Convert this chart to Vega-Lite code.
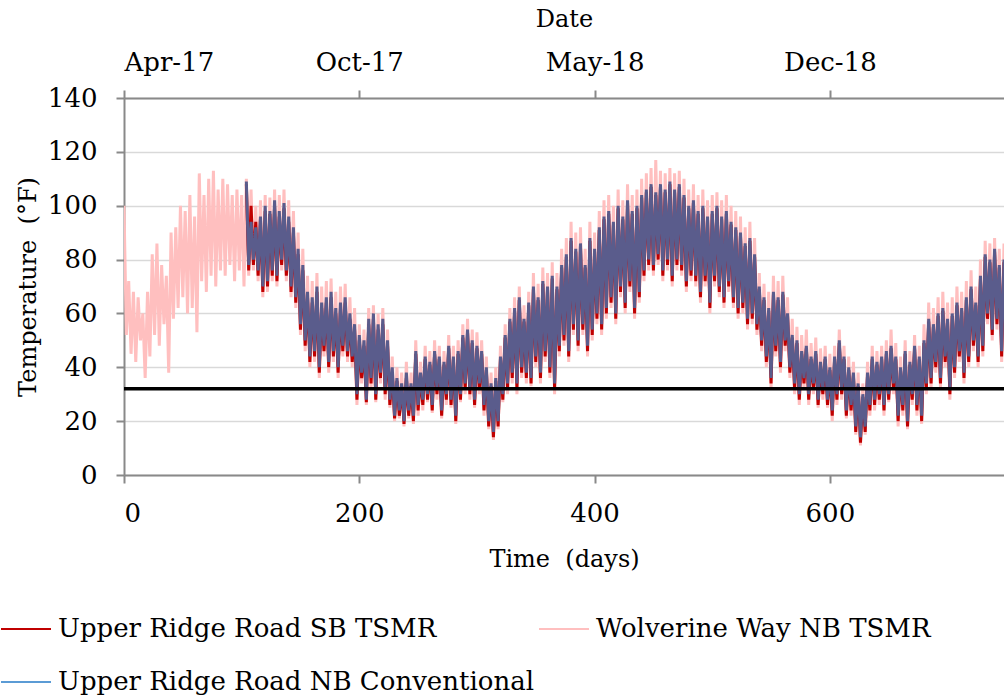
{
"$schema": "https://vega.github.io/schema/vega-lite/v6.json",
"width": 880, "height": 377,
"autosize": {"type": "none"},
"padding": {"left": 124, "top": 98, "right": 0, "bottom": 223},
"background": "white",
"config": {"font": "DejaVu Serif", "view": {"stroke": null},
 "axis": {"labelFont": "DejaVu Serif", "titleFont": "DejaVu Serif", "labelFontSize": 26, "titleFontSize": 24, "labelColor": "#000", "titleColor": "#000", "titleFontWeight": "normal", "domainColor": "#898989", "domainWidth": 2, "tickColor": "#898989", "tickWidth": 2, "tickSize": 8, "grid": false},
 "legend": {"labelFont": "DejaVu Serif"}},
"datasets": {"temps": [
{"d":0,"w":100},{"d":2,"w":52},{"d":4,"w":72},{"d":6,"w":45},{"d":8,"w":68},{"d":10,"w":42},{"d":12,"w":66},{"d":14,"w":50},{"d":16,"w":60},{"d":18,"w":36},
{"d":20,"w":68},{"d":22,"w":44},{"d":24,"w":82},{"d":26,"w":52},{"d":28,"w":86},{"d":30,"w":48},{"d":32,"w":78},{"d":34,"w":56},{"d":36,"w":74},{"d":38,"w":38},
{"d":40,"w":90},{"d":42,"w":58},{"d":44,"w":92},{"d":46,"w":62},{"d":48,"w":100},{"d":50,"w":66},{"d":52,"w":98},{"d":54,"w":60},{"d":56,"w":104},{"d":58,"w":62},
{"d":60,"w":96},{"d":62,"w":53},{"d":64,"w":112},{"d":66,"w":72},{"d":68,"w":104},{"d":70,"w":68},{"d":72,"w":110},{"d":74,"w":74},{"d":76,"w":113},{"d":78,"w":70},
{"d":80,"w":106},{"d":82,"w":76},{"d":84,"w":110},{"d":86,"w":74},{"d":88,"w":108},{"d":90,"w":78},{"d":92,"w":104},{"d":94,"w":72},{"d":96,"w":106},{"d":98,"w":76},
{"d":100,"w":104},{"d":102,"w":70},
{"d":104,"w":110,"r":108,"b":109},{"d":106,"w":74,"r":76,"b":78},{"d":108,"w":106,"r":100,"b":94},{"d":110,"w":76,"r":78,"b":80},{"d":112,"w":100,"r":94,"b":92},{"d":114,"w":72,"r":74,"b":76},{"d":116,"w":102,"r":95,"b":96},{"d":118,"w":66,"r":68,"b":70},
{"d":120,"w":104,"r":98,"b":100},{"d":122,"w":68,"r":70,"b":72},{"d":124,"w":103,"r":97,"b":98},{"d":126,"w":72,"r":74,"b":76},{"d":128,"w":106,"r":100,"b":102},{"d":130,"w":70,"r":72,"b":74},{"d":132,"w":104,"r":96,"b":98},{"d":134,"w":76,"r":78,"b":80},{"d":136,"w":106,"r":99,"b":101},{"d":138,"w":72,"r":74,"b":76},
{"d":140,"w":102,"r":94,"b":96},{"d":142,"w":66,"r":68,"b":70},{"d":144,"w":98,"r":90,"b":92},{"d":146,"w":62,"r":64,"b":66},{"d":148,"w":90,"r":82,"b":84},{"d":150,"w":52,"r":54,"b":56},{"d":152,"w":84,"r":76,"b":78},{"d":154,"w":46,"r":48,"b":50},{"d":156,"w":74,"r":66,"b":68},{"d":158,"w":40,"r":42,"b":44},
{"d":160,"w":72,"r":64,"b":66},{"d":162,"w":42,"r":44,"b":46},{"d":164,"w":75,"r":68,"b":70},{"d":166,"w":36,"r":38,"b":40},{"d":168,"w":70,"r":62,"b":64},{"d":170,"w":44,"r":46,"b":48},{"d":172,"w":72,"r":64,"b":66},{"d":174,"w":38,"r":40,"b":42},{"d":176,"w":73,"r":66,"b":68},{"d":178,"w":42,"r":44,"b":46},
{"d":180,"w":68,"r":60,"b":62},{"d":182,"w":36,"r":38,"b":40},{"d":184,"w":70,"r":62,"b":64},{"d":186,"w":44,"r":46,"b":48},{"d":188,"w":71,"r":64,"b":66},{"d":190,"w":42,"r":44,"b":46},{"d":192,"w":66,"r":58,"b":60},{"d":194,"w":40,"r":42,"b":44},{"d":196,"w":62,"r":54,"b":56},{"d":198,"w":26,"r":28,"b":30},
{"d":200,"w":56,"r":50,"b":52},{"d":202,"w":34,"r":36,"b":38},{"d":204,"w":54,"r":48,"b":50},{"d":206,"w":26,"r":27,"b":28},{"d":208,"w":62,"r":56,"b":58},{"d":210,"w":32,"r":34,"b":36},{"d":212,"w":63,"r":58,"b":60},{"d":214,"w":27,"r":28,"b":30},{"d":216,"w":60,"r":54,"b":56},{"d":218,"w":34,"r":36,"b":38},
{"d":220,"w":62,"r":56,"b":58},{"d":222,"w":28,"r":30,"b":32},{"d":224,"w":54,"r":48,"b":50},{"d":226,"w":25,"r":26,"b":28},{"d":228,"w":44,"r":38,"b":40},{"d":230,"w":20,"r":21,"b":22},{"d":232,"w":40,"r":35,"b":36},{"d":234,"w":21,"r":22,"b":24},{"d":236,"w":38,"r":33,"b":34},{"d":238,"w":18,"r":19,"b":20},
{"d":240,"w":42,"r":36,"b":38},{"d":242,"w":21,"r":22,"b":24},{"d":244,"w":38,"r":33,"b":34},{"d":246,"w":19,"r":20,"b":22},{"d":248,"w":50,"r":45,"b":46},{"d":250,"w":22,"r":24,"b":26},{"d":252,"w":42,"r":37,"b":38},{"d":254,"w":24,"r":26,"b":28},{"d":256,"w":48,"r":43,"b":44},{"d":258,"w":27,"r":28,"b":30},
{"d":260,"w":46,"r":41,"b":42},{"d":262,"w":23,"r":24,"b":26},{"d":264,"w":50,"r":45,"b":46},{"d":266,"w":28,"r":30,"b":32},{"d":268,"w":48,"r":43,"b":44},{"d":270,"w":21,"r":22,"b":24},{"d":272,"w":46,"r":41,"b":42},{"d":274,"w":26,"r":28,"b":30},{"d":276,"w":52,"r":47,"b":48},{"d":278,"w":25,"r":26,"b":28},
{"d":280,"w":48,"r":43,"b":44},{"d":282,"w":19,"r":20,"b":22},{"d":284,"w":50,"r":45,"b":46},{"d":286,"w":27,"r":28,"b":30},{"d":288,"w":56,"r":51,"b":52},{"d":290,"w":30,"r":32,"b":34},{"d":292,"w":58,"r":53,"b":54},{"d":294,"w":28,"r":30,"b":32},{"d":296,"w":54,"r":49,"b":50},{"d":298,"w":25,"r":26,"b":28},
{"d":300,"w":53,"r":47,"b":48},{"d":302,"w":30,"r":32,"b":34},{"d":304,"w":50,"r":45,"b":46},{"d":306,"w":22,"r":24,"b":26},{"d":308,"w":44,"r":39,"b":40},{"d":310,"w":17,"r":18,"b":20},{"d":312,"w":38,"r":33,"b":34},{"d":314,"w":13,"r":14,"b":16},{"d":316,"w":40,"r":35,"b":36},{"d":318,"w":17,"r":18,"b":20},
{"d":320,"w":48,"r":43,"b":44},{"d":322,"w":27,"r":28,"b":30},{"d":324,"w":56,"r":51,"b":52},{"d":326,"w":30,"r":32,"b":34},{"d":328,"w":62,"r":57,"b":58},{"d":330,"w":34,"r":36,"b":38},{"d":332,"w":66,"r":61,"b":62},{"d":334,"w":30,"r":32,"b":34},{"d":336,"w":70,"r":65,"b":66},{"d":338,"w":36,"r":38,"b":40},
{"d":340,"w":63,"r":57,"b":58},{"d":342,"w":34,"r":36,"b":38},{"d":344,"w":68,"r":63,"b":64},{"d":346,"w":33,"r":34,"b":36},{"d":348,"w":75,"r":69,"b":70},{"d":350,"w":40,"r":42,"b":44},{"d":352,"w":71,"r":65,"b":66},{"d":354,"w":34,"r":36,"b":38},{"d":356,"w":77,"r":71,"b":72},{"d":358,"w":42,"r":44,"b":46},
{"d":360,"w":75,"r":69,"b":70},{"d":362,"w":36,"r":38,"b":40},{"d":364,"w":79,"r":73,"b":74},{"d":366,"w":30,"r":32,"b":34},{"d":368,"w":75,"r":69,"b":70},{"d":370,"w":44,"r":46,"b":48},{"d":372,"w":84,"r":77,"b":78},{"d":374,"w":48,"r":50,"b":52},{"d":376,"w":88,"r":81,"b":82},{"d":378,"w":42,"r":44,"b":46},
{"d":380,"w":94,"r":87,"b":88},{"d":382,"w":52,"r":54,"b":56},{"d":384,"w":90,"r":83,"b":84},{"d":386,"w":46,"r":48,"b":50},{"d":388,"w":92,"r":85,"b":86},{"d":390,"w":52,"r":54,"b":56},{"d":392,"w":84,"r":77,"b":78},{"d":394,"w":44,"r":46,"b":48},{"d":396,"w":94,"r":87,"b":88},{"d":398,"w":50,"r":52,"b":54},
{"d":400,"w":90,"r":83,"b":84},{"d":402,"w":56,"r":58,"b":60},{"d":404,"w":98,"r":91,"b":92},{"d":406,"w":52,"r":54,"b":56},{"d":408,"w":102,"r":95,"b":96},{"d":410,"w":58,"r":60,"b":62},{"d":412,"w":104,"r":97,"b":98},{"d":414,"w":62,"r":64,"b":66},{"d":416,"w":100,"r":93,"b":94},{"d":418,"w":56,"r":58,"b":60},
{"d":420,"w":106,"r":99,"b":100},{"d":422,"w":66,"r":68,"b":70},{"d":424,"w":102,"r":95,"b":96},{"d":426,"w":60,"r":62,"b":64},{"d":428,"w":108,"r":101,"b":102},{"d":430,"w":68,"r":70,"b":72},{"d":432,"w":104,"r":97,"b":98},{"d":434,"w":58,"r":60,"b":62},{"d":436,"w":106,"r":99,"b":100},{"d":438,"w":64,"r":66,"b":68},
{"d":440,"w":110,"r":103,"b":104},{"d":442,"w":72,"r":74,"b":76},{"d":444,"w":112,"r":105,"b":106},{"d":446,"w":76,"r":78,"b":80},{"d":448,"w":114,"r":107,"b":108},{"d":450,"w":74,"r":76,"b":78},{"d":452,"w":117,"r":104,"b":105},{"d":454,"w":78,"r":80,"b":82},{"d":456,"w":113,"r":107,"b":108},{"d":458,"w":72,"r":74,"b":76},
{"d":460,"w":112,"r":105,"b":106},{"d":462,"w":76,"r":78,"b":80},{"d":464,"w":114,"r":108,"b":109},{"d":466,"w":70,"r":72,"b":74},{"d":468,"w":112,"r":105,"b":106},{"d":470,"w":76,"r":78,"b":80},{"d":472,"w":113,"r":107,"b":108},{"d":474,"w":74,"r":76,"b":78},{"d":476,"w":110,"r":103,"b":104},{"d":478,"w":68,"r":70,"b":72},
{"d":480,"w":106,"r":99,"b":100},{"d":482,"w":72,"r":74,"b":76},{"d":484,"w":108,"r":101,"b":102},{"d":486,"w":70,"r":72,"b":74},{"d":488,"w":104,"r":97,"b":98},{"d":490,"w":64,"r":66,"b":68},{"d":492,"w":106,"r":99,"b":100},{"d":494,"w":70,"r":72,"b":74},{"d":496,"w":102,"r":95,"b":96},{"d":498,"w":60,"r":62,"b":64},
{"d":500,"w":104,"r":97,"b":98},{"d":502,"w":70,"r":72,"b":74},{"d":504,"w":105,"r":99,"b":100},{"d":506,"w":66,"r":68,"b":70},{"d":508,"w":102,"r":95,"b":96},{"d":510,"w":62,"r":64,"b":66},{"d":512,"w":104,"r":97,"b":98},{"d":514,"w":68,"r":70,"b":72},{"d":516,"w":100,"r":93,"b":94},{"d":518,"w":62,"r":64,"b":66},
{"d":520,"w":98,"r":91,"b":92},{"d":522,"w":58,"r":60,"b":62},{"d":524,"w":96,"r":89,"b":90},{"d":526,"w":60,"r":62,"b":64},{"d":528,"w":92,"r":85,"b":86},{"d":530,"w":54,"r":56,"b":58},{"d":532,"w":94,"r":87,"b":88},{"d":534,"w":56,"r":58,"b":60},{"d":536,"w":88,"r":81,"b":82},{"d":538,"w":52,"r":54,"b":56},
{"d":540,"w":75,"r":69,"b":70},{"d":542,"w":46,"r":48,"b":50},{"d":544,"w":71,"r":65,"b":66},{"d":546,"w":40,"r":42,"b":44},{"d":548,"w":68,"r":61,"b":62},{"d":550,"w":32,"r":34,"b":36},{"d":552,"w":74,"r":67,"b":68},{"d":554,"w":44,"r":46,"b":48},{"d":556,"w":72,"r":65,"b":66},{"d":558,"w":38,"r":40,"b":42},
{"d":560,"w":74,"r":67,"b":68},{"d":562,"w":46,"r":48,"b":50},{"d":564,"w":66,"r":59,"b":60},{"d":566,"w":36,"r":38,"b":40},{"d":568,"w":58,"r":51,"b":52},{"d":570,"w":30,"r":32,"b":34},{"d":572,"w":55,"r":49,"b":50},{"d":574,"w":26,"r":28,"b":30},{"d":576,"w":52,"r":45,"b":46},{"d":578,"w":32,"r":34,"b":36},
{"d":580,"w":54,"r":47,"b":48},{"d":582,"w":26,"r":28,"b":30},{"d":584,"w":49,"r":43,"b":44},{"d":586,"w":30,"r":32,"b":34},{"d":588,"w":51,"r":45,"b":46},{"d":590,"w":25,"r":26,"b":28},{"d":592,"w":47,"r":41,"b":42},{"d":594,"w":28,"r":30,"b":32},{"d":596,"w":48,"r":43,"b":44},{"d":598,"w":25,"r":26,"b":28},
{"d":600,"w":45,"r":39,"b":40},{"d":602,"w":20,"r":22,"b":24},{"d":604,"w":48,"r":43,"b":44},{"d":606,"w":26,"r":28,"b":30},{"d":608,"w":54,"r":49,"b":50},{"d":610,"w":28,"r":30,"b":32},{"d":612,"w":48,"r":43,"b":44},{"d":614,"w":21,"r":22,"b":24},{"d":616,"w":44,"r":39,"b":40},{"d":618,"w":22,"r":24,"b":26},
{"d":620,"w":42,"r":37,"b":38},{"d":622,"w":15,"r":16,"b":18},{"d":624,"w":38,"r":33,"b":34},{"d":626,"w":11,"r":12,"b":14},{"d":628,"w":34,"r":29,"b":30},{"d":630,"w":15,"r":16,"b":18},{"d":632,"w":42,"r":37,"b":38},{"d":634,"w":22,"r":24,"b":26},{"d":636,"w":48,"r":43,"b":44},{"d":638,"w":24,"r":26,"b":28},
{"d":640,"w":46,"r":41,"b":42},{"d":642,"w":26,"r":28,"b":30},{"d":644,"w":48,"r":43,"b":44},{"d":646,"w":22,"r":24,"b":26},{"d":648,"w":50,"r":45,"b":46},{"d":650,"w":27,"r":28,"b":30},{"d":652,"w":54,"r":47,"b":48},{"d":654,"w":30,"r":32,"b":34},{"d":656,"w":49,"r":43,"b":44},{"d":658,"w":18,"r":20,"b":22},
{"d":660,"w":44,"r":39,"b":40},{"d":662,"w":22,"r":24,"b":26},{"d":664,"w":50,"r":45,"b":46},{"d":666,"w":17,"r":18,"b":20},{"d":668,"w":46,"r":41,"b":42},{"d":670,"w":26,"r":28,"b":30},{"d":672,"w":52,"r":47,"b":48},{"d":674,"w":22,"r":24,"b":26},{"d":676,"w":48,"r":43,"b":44},{"d":678,"w":19,"r":20,"b":22},
{"d":680,"w":56,"r":49,"b":50},{"d":682,"w":30,"r":32,"b":34},{"d":684,"w":64,"r":57,"b":58},{"d":686,"w":32,"r":34,"b":36},{"d":688,"w":62,"r":55,"b":56},{"d":690,"w":38,"r":40,"b":42},{"d":692,"w":66,"r":59,"b":60},{"d":694,"w":32,"r":34,"b":36},{"d":696,"w":68,"r":61,"b":62},{"d":698,"w":40,"r":42,"b":44},
{"d":700,"w":64,"r":57,"b":58},{"d":702,"w":28,"r":30,"b":32},{"d":704,"w":66,"r":59,"b":60},{"d":706,"w":36,"r":38,"b":40},{"d":708,"w":70,"r":63,"b":64},{"d":710,"w":42,"r":44,"b":46},{"d":712,"w":68,"r":61,"b":62},{"d":714,"w":34,"r":36,"b":38},{"d":716,"w":72,"r":65,"b":66},{"d":718,"w":40,"r":42,"b":44},
{"d":720,"w":76,"r":69,"b":70},{"d":722,"w":46,"r":48,"b":50},{"d":724,"w":70,"r":63,"b":64},{"d":726,"w":40,"r":42,"b":44},{"d":728,"w":80,"r":73,"b":74},{"d":730,"w":44,"r":46,"b":48},{"d":732,"w":87,"r":81,"b":82},{"d":734,"w":56,"r":58,"b":60},{"d":736,"w":86,"r":79,"b":80},{"d":738,"w":50,"r":52,"b":54},
{"d":740,"w":88,"r":83,"b":84},{"d":742,"w":54,"r":56,"b":58},{"d":744,"w":84,"r":77,"b":78},{"d":746,"w":42,"r":44,"b":46},{"d":748,"w":86,"r":79,"b":80}
]},
"data": {"name": "temps"},
"transform": [{"fold": ["w", "r", "b"], "as": ["s", "t"]}, {"filter": "isValid(datum.t)"}],
"resolve": {"axis": {"x": "independent"}},
"layer": [
 {"transform": [{"filter": "datum.s == 'w'"}],
  "mark": {"type": "line", "strokeWidth": 3, "clip": true},
  "encoding": {
   "x": {"field": "d", "type": "quantitative", "scale": {"domain": [0, 748], "nice": false, "zero": false},
     "axis": {"orient": "bottom", "values": [0, 200, 400, 600], "title": "Time \u00a0(days)", "labelPadding": 17, "titlePadding": 21}},
   "y": {"field": "t", "type": "quantitative", "scale": {"domain": [0, 140], "nice": false},
     "axis": {"values": [0, 20, 40, 60, 80, 100, 120, 140], "grid": true, "gridColor": "#D9D9D9", "gridWidth": 1.5, "labelPadding": 19, "title": "Temperature\u00a0 (°F)", "titlePadding": 7}},
   "color": {"field": "s", "type": "nominal", "scale": {"domain": ["r", "b", "w"], "range": ["#C00000", "#5B9BD5", "#FFBFBF"]},
     "legend": {"orient": "none", "legendX": -124, "legendY": 505, "columns": 2, "title": null, "symbolType": "stroke", "symbolSize": 2500, "symbolStrokeWidth": 2, "labelFont": "DejaVu Serif", "labelFontSize": 26, "labelColor": "#000", "labelOffset": 6, "labelLimit": 700, "columnPadding": 1, "rowPadding": 14, "padding": 0,
       "labelExpr": "datum.label == 'r' ? 'Upper Ridge Road SB TSMR' : datum.label == 'w' ? 'Wolverine Way NB TSMR' : 'Upper Ridge Road NB Conventional'"}}
  }},
 {"transform": [{"filter": "datum.s == 'r'"}],
  "mark": {"type": "line", "strokeWidth": 3, "clip": true},
  "encoding": {
   "x": {"field": "d", "type": "quantitative",
     "axis": {"orient": "top", "values": [0, 200, 400, 600], "title": "Date", "labelPadding": 15, "titlePadding": 18,
       "labelExpr": "datum.value == 0 ? 'Apr-17' : datum.value == 200 ? 'Oct-17' : datum.value == 400 ? 'May-18' : 'Dec-18'"}},
   "y": {"field": "t", "type": "quantitative"},
   "color": {"field": "s", "type": "nominal"}
  }},
 {"transform": [{"filter": "datum.s == 'b'"}],
  "mark": {"type": "line", "strokeWidth": 3, "clip": true, "color": "#5A5C8C"},
  "encoding": {
   "x": {"field": "d", "type": "quantitative", "axis": null},
   "y": {"field": "t", "type": "quantitative"}
  }},
 {"data": {"values": [{}]},
  "mark": {"type": "rule", "color": "#000", "strokeWidth": 3.5},
  "encoding": {"y": {"datum": 32}}}
]
}
